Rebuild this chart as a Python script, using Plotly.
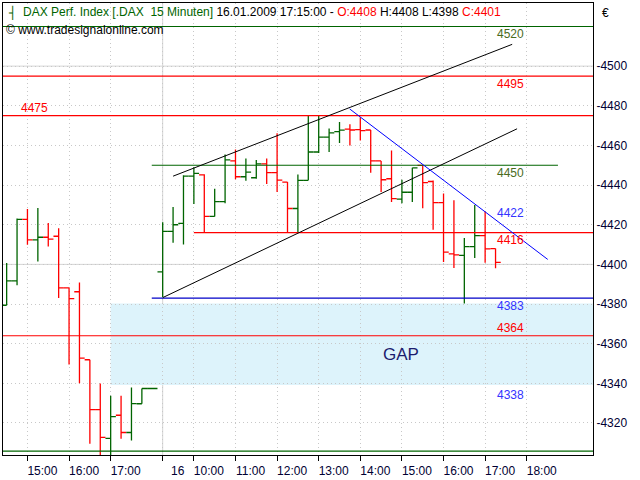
import plotly.graph_objects as go

# ---------------- data ----------------
bar_index = list(range(48))
opens = [4379.4, 4391.7, 4422.7, 4412.4, 4413.7, 4414.2, 4388.2, 4386.2, 4351.9, 4326.7,
         4312.2, 4323.9, 4315.2, 4329.7, 4337.4,
         4396.2, 4416.7, 4420.7, 4444.5, 4445.2, 4424.2, 4431.7, 4452.2, 4444.2, 4443.7,
         4450.7, 4446.3, 4441.5, 4428.2, 4442.4, 4456.7, 4464.2, 4467.0, 4468.2, 4468.0,
         4467.8, 4452.2, 4443.2, 4432.9, 4436.4, 4449.9, 4441.8, 4431.2, 4405.3, 4404.5,
         4409.0, 4414.5, 4408.0]
highs = [4400.7, 4423.2, 4427.9, 4428.4, 4420.9, 4418.2, 4388.2, 4390.9, 4351.9, 4339.9,
         4333.8, 4333.8, 4337.9, 4337.4, 4337.4,
         4421.2, 4428.9, 4445.0, 4449.0, 4445.5, 4438.2, 4455.4, 4457.9, 4453.4, 4452.7,
         4453.4, 4466.2, 4441.5, 4445.4, 4474.9, 4474.9, 4468.5, 4471.8, 4470.7, 4474.2,
         4467.8, 4452.2, 4457.5, 4442.7, 4448.7, 4449.9, 4442.3, 4435.8, 4432.3, 4413.3,
         4430.0, 4426.7, 4408.0]
lows = [4379.4, 4389.5, 4409.9, 4401.5, 4409.0, 4383.0, 4349.5, 4340.0, 4309.5, 4300.0,
        4300.0, 4312.0, 4311.2, 4329.7, 4337.4,
        4383.4, 4410.9, 4410.0, 4430.4, 4416.2, 4424.2, 4430.9, 4442.9, 4442.2, 4443.2,
        4440.5, 4436.5, 4416.2, 4416.2, 4442.4, 4456.2, 4456.7, 4461.2, 4460.0, 4462.5,
        4446.2, 4436.5, 4431.5, 4430.9, 4431.5, 4428.3, 4417.5, 4401.2, 4398.2, 4380.3,
        4403.2, 4400.8, 4398.0]
closes = [4391.7, 4422.7, 4412.4, 4413.7, 4412.7, 4388.2, 4382.7, 4352.7, 4326.7, 4312.7,
          4323.2, 4315.2, 4329.8, 4337.4, 4337.4,
          4416.7, 4420.0, 4444.5, 4445.9, 4424.2, 4431.7, 4452.7, 4444.2, 4446.5, 4450.7,
          4446.3, 4442.5, 4428.2, 4442.4, 4456.7, 4464.2, 4466.3, 4467.7, 4467.8, 4467.5,
          4452.2, 4442.7, 4433.2, 4436.4, 4448.7, 4441.2, 4431.2, 4406.2, 4404.8, 4409.0,
          4414.5, 4407.8, 4401.0]

x_tick_index = [2, 6, 10, 15, 18, 22, 26, 30, 34, 38, 42, 46, 50]
x_tick_text = ["15:00", "16:00", "17:00", "16", "10:00", "11:00", "12:00", "13:00",
               "14:00", "15:00", "16:00", "17:00", "18:00"]
y_tick_values = [4320, 4340, 4360, 4380, 4400, 4420, 4440, 4460, 4480, 4500]
y_tick_text = ["-" + str(v) for v in y_tick_values]

# horizontal levels: value, colour, start bar, end bar (None = full width)
level_values = [4520, 4495, 4475, 4450, 4416, 4383, 4364, 4305.8]
level_colors = ["#006400", "#ff0000", "#ff0000", "#006400", "#ff0000", "#0000c8", "#ff0000", "#006400"]
level_start = [None, None, None, 13.95, 18.0, 13.95, None, None]
level_end = [None, None, None, 53.0, None, None, None, None]

# price labels
label_values = [4520, 4495, 4475, 4450, 4422, 4416, 4383, 4364, 4338]
label_colors = ["#4a6b1c", "#ff0000", "#ff0000", "#4a6b1c", "#3333ff", "#ff0000", "#3333ff", "#ff0000", "#3333ff"]
label_below = [True, True, False, True, False, True, True, False, True]
label_left = [False, False, True, False, False, False, False, False, False]

# gap zone
gap_start_bar = 10.0
gap_top = 4380.3
gap_bottom = 4339.2

# trend lines: (bar0, price0, bar1, price1, colour)
trend_bar0 = [16.0, 15.03, 32.98]
trend_p0 = [4444.5, 4383.3, 4478.4]
trend_bar1 = [48.6, 49.07, 52.02]
trend_p1 = [4511.0, 4468.4, 4402.5]
trend_colors = ["#000000", "#000000", "#0000ff"]

# ---------------- figure ----------------
FONT = "Liberation Sans, Arial, sans-serif"
fig = go.Figure()
fig.add_trace(go.Ohlc(
    x=bar_index, open=opens, high=highs, low=lows, close=closes,
    increasing_line_color="#006400", decreasing_line_color="#ff0000",
    line_width=1.3, tickwidth=0.5, hoverinfo="skip", showlegend=False))

shapes = []
shapes.append(dict(type="rect", xref="x", yref="y", x0=gap_start_bar, x1=60,
                   y0=gap_bottom, y1=gap_top, fillcolor="#ddf3fb", line_width=0, layer="below"))
for v in (4400, 4500):
    shapes.append(dict(type="line", xref="paper", yref="y", x0=0, x1=1, y0=v, y1=v,
                       line=dict(color="#d4d4d4", width=1), layer="below"))
shapes.append(dict(type="line", xref="x", yref="paper", x0=x_tick_index[3], x1=x_tick_index[3],
                   y0=0, y1=1, line=dict(color="#d4d4d4", width=1), layer="below"))
for v, c, s, e in zip(level_values, level_colors, level_start, level_end):
    if s is None and e is None:
        shapes.append(dict(type="line", xref="paper", yref="y", x0=0, x1=1, y0=v, y1=v,
                           line=dict(color=c, width=1.2)))
    else:
        shapes.append(dict(type="line", xref="x", yref="y", x0=s, x1=(e if e is not None else 60),
                           y0=v, y1=v, line=dict(color=c, width=1.2)))
for b0, p0, b1, p1, c in zip(trend_bar0, trend_p0, trend_bar1, trend_p1, trend_colors):
    shapes.append(dict(type="line", xref="x", yref="y", x0=b0, y0=p0, x1=b1, y1=p1,
                       line=dict(color=c, width=1)))

annotations = []
for v, c, below, left in zip(label_values, label_colors, label_below, label_left):
    annotations.append(dict(xref="paper", yref="y", x=(0.0276 if left else 0.834), y=v,
                            xanchor="left", yanchor="middle", text=str(v), showarrow=False,
                            yshift=(-7.5 if below else 7.5),
                            font=dict(family=FONT, size=12, color=c)))
annotations.append(dict(xref="paper", yref="paper", x=0.641, y=0.2215, xanchor="left",
                        yanchor="middle", text="GAP", showarrow=False,
                        font=dict(family=FONT, size=17, color="#1c1c6e")))
header = ("<span style='color:#006400'>DAX Perf. Index [.DAX\u00a0\u00a015 Minuten]</span>"
          " 16.01.2009 17:15:00 - <span style='color:#ff0000'>O:4408</span>"
          " H:4408 L:4398 <span style='color:#ff0000'>C:4401</span>")
annotations.append(dict(xref="paper", yref="paper", x=0.0305, y=0.980, xanchor="left",
                        yanchor="middle", text=header, showarrow=False,
                        font=dict(family=FONT, size=12, color="#000000")))
annotations.append(dict(xref="paper", yref="paper", x=0.0152, y=0.980, xanchor="center",
                        yanchor="middle", text="┤", showarrow=False,
                        font=dict(family="DejaVu Sans", size=12, color="#006400")))
annotations.append(dict(xref="paper", yref="paper", x=0.0017, y=0.9408, xanchor="left",
                        yanchor="middle", text="© www.tradesignalonline.com", showarrow=False,
                        font=dict(family=FONT, size=12, color="#000000")))
annotations.append(dict(xref="paper", yref="paper", x=1.0118, y=0.978, xanchor="left",
                        yanchor="middle", text="€", showarrow=False,
                        font=dict(family=FONT, size=12, color="#000000")))

fig.update_layout(
    width=640, height=480,
    margin=dict(l=2, r=47, t=2, b=22),
    paper_bgcolor="white", plot_bgcolor="white",
    shapes=shapes, annotations=annotations,
    showlegend=False,
    xaxis=dict(range=[-0.351, 56.37], tickvals=x_tick_index, ticktext=x_tick_text,
               ticks="outside", ticklen=5, tickcolor="#000000", ticklabelshift=15,
               showgrid=True, gridcolor="#c8c8c8", griddash="1px,3px", gridwidth=1,
               zeroline=False, showline=True, mirror=True, linecolor="#000000", linewidth=1,
               tickfont=dict(family=FONT, size=12, color="#000033"),
               rangeslider=dict(visible=False), fixedrange=True),
    yaxis=dict(range=[4303.85, 4531.85], side="right", tickvals=y_tick_values,
               ticktext=y_tick_text, ticks="", showgrid=True, gridcolor="#c8c8c8",
               griddash="1px,3px", gridwidth=1, zeroline=False, showline=True, mirror=True,
               linecolor="#000000", linewidth=1,
               tickfont=dict(family=FONT, size=12, color="#000033"), fixedrange=True),
)
fig.write_html("out.html", config={"displayModeBar": False},
               post_script="document.body.style.margin='0';document.body.style.padding='0';")
